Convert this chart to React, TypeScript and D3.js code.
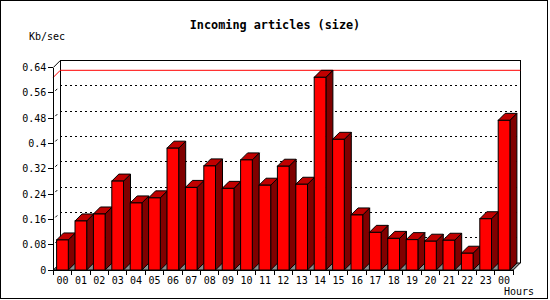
import React from 'react';
import * as d3 from 'd3';

// hourly values (Kb/sec)
const hours = ['00', '01', '02', '03', '04', '05', '06', '07', '08', '09', '10', '11', '12',
    '13', '14', '15', '16', '17', '18', '19', '20', '21', '22', '23', '00'];
const kbSec = [0.095, 0.155, 0.177, 0.281, 0.212, 0.228, 0.385, 0.261, 0.329, 0.258, 0.348, 0.268, 0.328,
    0.271, 0.609, 0.413, 0.174, 0.119, 0.100, 0.096, 0.091, 0.094, 0.053, 0.162, 0.473];
const yTickValues = [0, 0.08, 0.16, 0.24, 0.32, 0.4, 0.48, 0.56, 0.64];
const yTickLabels = ['0', '0.08', '0.16', '0.24', '0.32', '0.4', '0.48', '0.56', '0.64'];

const mono = '"DejaVu Sans Mono", "Liberation Mono", monospace';

export default function App() {
    const width = 550;
    const height = 300;
    const margin = {t: 67.5, b: 30, l: 53.3, r: 36.7};
    const dx = 7;   // depth shift right
    const dy = 7;   // depth shift up

    const x = d3.scaleBand<number>()
        .domain(hours.map((_, i) => i))
        .range([margin.l, width - margin.r]);
    const y = d3.scaleLinear()
        .domain([0, 0.64])
        .range([height - margin.b, margin.t]);

    const cw = x.bandwidth();
    const barOff = 3.3;
    const barW = 11.7;
    const x0 = margin.l;
    const x1 = width - margin.r;
    const y0 = y(0);
    const yTop = y(0.64);
    const maxV = d3.max(kbSec) as number;

    const pts = (p: number[][]) => p.map(q => q.join(',')).join(' ');

    const bars = kbSec.map((v, i) => {
        const l = (x(i) as number) + barOff;
        const r = l + barW;
        const t = y(v);
        return (
            <g key={i} stroke="#000" strokeWidth={1} strokeLinejoin="miter">
                <polygon points={pts([[r, y0], [r + dx, y0 - dy], [r + dx, t - dy], [r, t]])} fill="#800000"/>
                <polygon points={pts([[l, t], [l + dx, t - dy], [r + dx, t - dy], [r, t]])} fill="#c00000"/>
                <rect x={l} y={t} width={barW} height={y0 - t} fill="#ff0000"/>
            </g>
        );
    });

    const grid = yTickValues.filter(d => d > 0 && d < 0.64).map(d => (
        <line key={d} x1={x0 + dx} x2={x1 + dx} y1={y(d) - dy} y2={y(d) - dy}
              stroke="#000" strokeDasharray="2,3" shapeRendering="crispEdges"/>
    ));

    const yTicks = yTickValues.map((d, i) => (
        <g key={d}>
            <line x1={x0 - 5} x2={x0} y1={y(d)} y2={y(d)} stroke="#000" shapeRendering="crispEdges"/>
            {d > 0 && d < 0.64 ?
                <line x1={x0 + 2} x2={x0 + 4} y1={y(d) - 2} y2={y(d) - 4} stroke="#000"/> : null}
            <text x={x0 - 7} y={y(d) + 3.5} textAnchor="end" fontFamily={mono} fontSize={10}>{yTickLabels[i]}</text>
        </g>
    ));

    const xTicks = d3.range(hours.length + 1).map(i => (
        <line key={i} x1={x0 + i * cw} x2={x0 + i * cw} y1={y0} y2={y0 + 5}
              stroke="#000" shapeRendering="crispEdges"/>
    ));

    const xLabels = hours.map((h, i) => (
        <text key={i} x={(x(i) as number) + cw / 2} y={y0 + 14} textAnchor="middle"
              fontFamily={mono} fontSize={10}>{h}</text>
    ));

    return (
        <svg width={width} height={height} style={{position: 'absolute', left: 0, top: 0, background: '#fff'}}>
            <rect x={0.5} y={0.5} width={547} height={298} fill="#fff" stroke="#000" shapeRendering="crispEdges"/>
            <text x={275} y={29} textAnchor="middle" fontFamily={mono} fontWeight="bold" fontSize={11.8}>Incoming articles (size)</text>
            <text x={29} y={40} fontFamily={mono} fontSize={10}>Kb/sec</text>

            {/* back wall */}
            {grid}
            <polyline points={pts([[x0 + dx, y0 - dy], [x0 + dx, yTop - dy], [x1 + dx, yTop - dy], [x1 + dx, y0 - dy]])}
                      fill="none" stroke="#000" shapeRendering="crispEdges"/>
            {/* floor */}
            <polygon points={pts([[x0, y0], [x0 + dx, y0 - dy], [x1 + dx, y0 - dy], [x1, y0]])}
                     fill="#8c8c8c" stroke="#000"/>
            {/* max line */}
            <polyline points={pts([[x0, y(maxV)], [x0 + dx, y(maxV) - dy], [x1 + dx, y(maxV) - dy]])}
                      fill="none" stroke="#ff0000"/>

            {bars}

            {/* front axes */}
            <line x1={x0} x2={x0} y1={yTop} y2={y0} stroke="#000" shapeRendering="crispEdges"/>
            <line x1={x0} x2={x0 + dx} y1={yTop} y2={yTop - dy} stroke="#000"/>
            <line x1={x0} x2={x1} y1={y0} y2={y0} stroke="#000" shapeRendering="crispEdges"/>
            {yTicks}
            {xTicks}
            {xLabels}
            <text x={534} y={295} textAnchor="end" fontFamily={mono} fontSize={10}>Hours</text>
        </svg>
    );
}
